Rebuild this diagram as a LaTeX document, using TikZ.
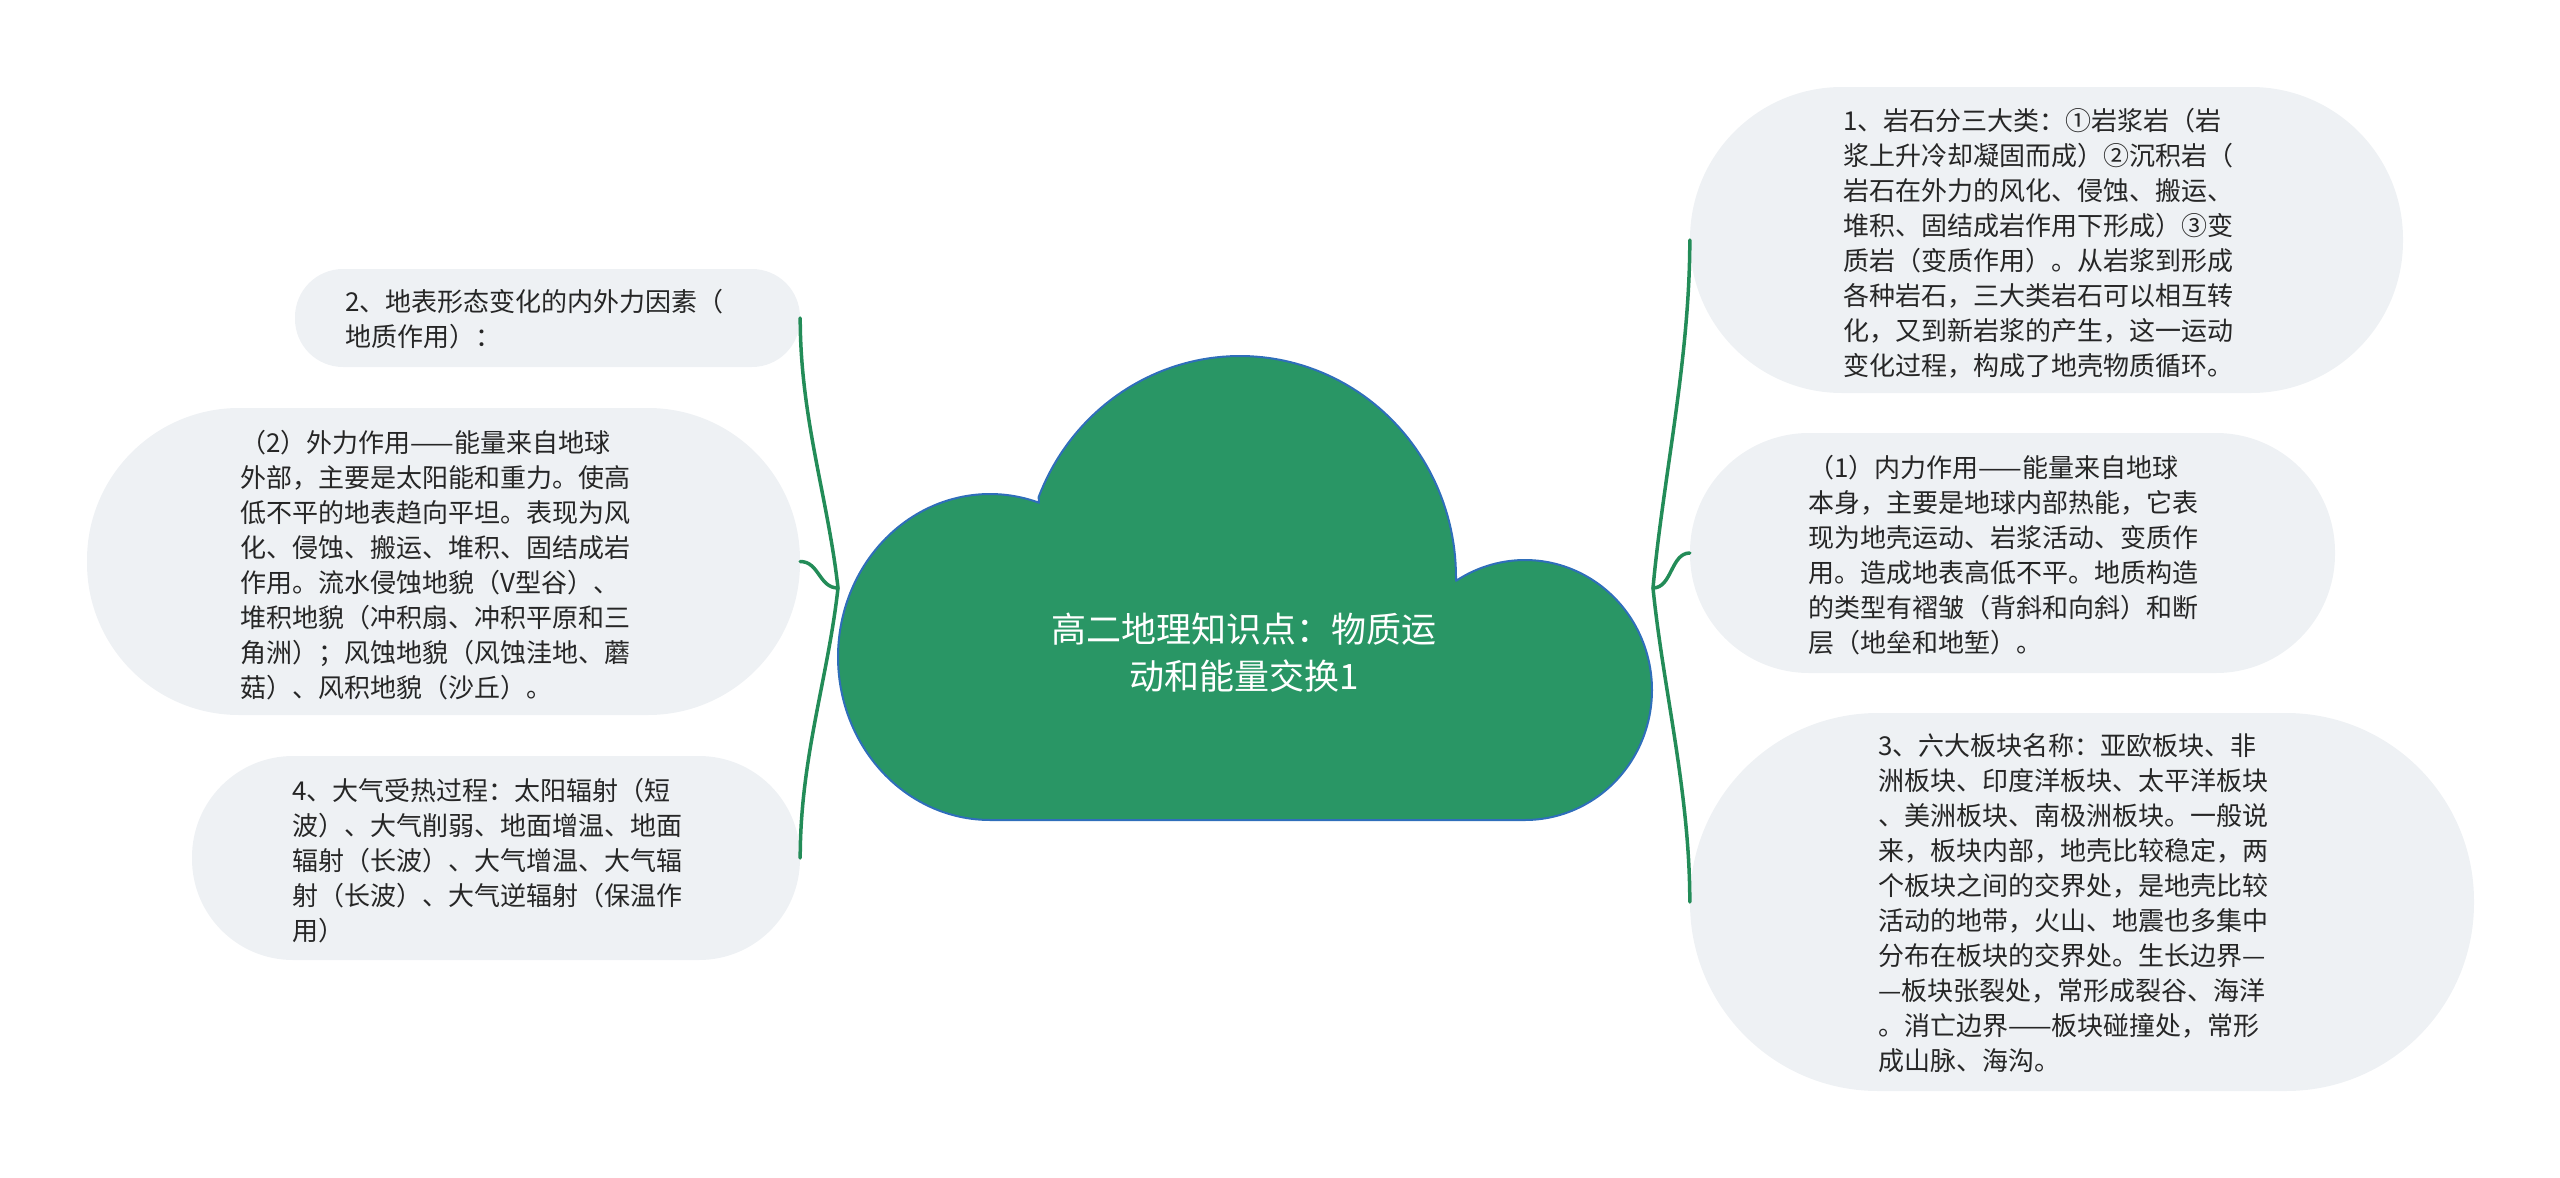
\documentclass[tikz,border=0pt]{standalone}
\usepackage{fontspec}
\setmainfont{Noto Sans CJK SC}
\definecolor{bubblefill}{RGB}{238,241,244}
\definecolor{textcol}{RGB}{38,38,38}
\definecolor{cloudfill}{RGB}{41,150,101}
\definecolor{cloudline}{RGB}{47,110,186}
\definecolor{conncol}{RGB}{35,140,88}
\begin{document}
\begin{tikzpicture}[x=1pt,y=-1pt,
  bubble/.style={draw=none, fill=bubblefill, inner sep=0pt},
  btext/.style={anchor=west, inner sep=0pt, text=textcol, font=\fontsize{26}{35}\selectfont},
  conn/.style={draw=conncol, line width=3.5pt, line cap=round},
  cloudshape/.style={fill=cloudfill, draw=cloudline, line width=2pt, line join=round},
  titletext/.style={inner sep=0pt, text=white, font=\fontsize{35}{47}\selectfont}
]
\useasboundingbox (0,0) rectangle (2560,1178);

% connector junctions
\coordinate (JL) at (838,588);
\coordinate (JR) at (1653,588);

% bubbles
\node[bubble, minimum width=713pt, minimum height=306pt, rounded corners=152pt] (n1) at (2046.5,240) {};
\node[bubble, minimum width=645pt, minimum height=240pt, rounded corners=119pt] (n2) at (2012.5,553) {};
\node[bubble, minimum width=784pt, minimum height=378pt, rounded corners=188pt] (n3) at (2082,902) {};
\node[bubble, minimum width=505pt, minimum height=98pt, rounded corners=48pt] (n4) at (547.5,318) {};
\node[bubble, minimum width=713pt, minimum height=307pt, rounded corners=152pt] (n5) at (443.5,561.5) {};
\node[bubble, minimum width=608pt, minimum height=204pt, rounded corners=101pt] (n6) at (496,858) {};

% connectors
\draw[conn] (JL) .. controls +(-10,-90) and +(0,100) .. (n4.east);
\draw[conn] (JL) .. controls +(-19,0) and +(19,0) .. (n5.east);
\draw[conn] (JL) .. controls +(-10,90) and +(0,-100) .. (n6.east);
\draw[conn] (JR) .. controls +(10,-110) and +(0,120) .. (n1.west);
\draw[conn] (JR) .. controls +(19,0) and +(-19,0) .. (n2.west);
\draw[conn] (JR) .. controls +(10,100) and +(0,-110) .. (n3.west);

% cloud
\filldraw[cloudshape]
  plot[domain=0:-158.8, samples=90, variable=\t] ({1240+216*cos(\t)},{577+221*sin(\t)})
  -- plot[domain=-71.2:-270, samples=110, variable=\t] ({990+152*cos(\t)},{657+163*sin(\t)})
  -- plot[domain=90:-122.9, samples=110, variable=\t] ({1525+127*cos(\t)},{690+130*sin(\t)})
  -- cycle;
\node[titletext] (root) at (1244,657) {\begin{tabular}{@{}c@{}}高二地理知识点：物质运\\动和能量交换1\end{tabular}};

% texts
\node[btext] (t1) at (1843,246) {\begin{tabular}{@{}l@{}}1、岩石分三大类：①岩浆岩（岩\\浆上升冷却凝固而成）②沉积岩（\\岩石在外力的风化、侵蚀、搬运、\\堆积、固结成岩作用下形成）③变\\质岩（变质作用）。从岩浆到形成\\各种岩石，三大类岩石可以相互转\\化，又到新岩浆的产生，这一运动\\变化过程，构成了地壳物质循环。\end{tabular}};
\node[btext] (t2) at (1808,558) {\begin{tabular}{@{}l@{}}（1）内力作用——能量来自地球\\本身，主要是地球内部热能，它表\\现为地壳运动、岩浆活动、变质作\\用。造成地表高低不平。地质构造\\的类型有褶皱（背斜和向斜）和断\\层（地垒和地堑）。\end{tabular}};
\node[btext] (t3) at (1878,906) {\begin{tabular}{@{}l@{}}3、六大板块名称：亚欧板块、非\\洲板块、印度洋板块、太平洋板块\\、美洲板块、南极洲板块。一般说\\来，板块内部，地壳比较稳定，两\\个板块之间的交界处，是地壳比较\\活动的地带，火山、地震也多集中\\分布在板块的交界处。生长边界—\\—板块张裂处，常形成裂谷、海洋\\。消亡边界——板块碰撞处，常形\\成山脉、海沟。\end{tabular}};
\node[btext] (t4) at (345,322) {\begin{tabular}{@{}l@{}}2、地表形态变化的内外力因素（\\地质作用）：\end{tabular}};
\node[btext] (t5) at (240,568) {\begin{tabular}{@{}l@{}}（2）外力作用——能量来自地球\\外部，主要是太阳能和重力。使高\\低不平的地表趋向平坦。表现为风\\化、侵蚀、搬运、堆积、固结成岩\\作用。流水侵蚀地貌（V型谷）、\\堆积地貌（冲积扇、冲积平原和三\\角洲）；风蚀地貌（风蚀洼地、蘑\\菇）、风积地貌（沙丘）。\end{tabular}};
\node[btext] (t6) at (292,863) {\begin{tabular}{@{}l@{}}4、大气受热过程：太阳辐射（短\\波）、大气削弱、地面增温、地面\\辐射（长波）、大气增温、大气辐\\射（长波）、大气逆辐射（保温作\\用）\end{tabular}};
\end{tikzpicture}
\end{document}
